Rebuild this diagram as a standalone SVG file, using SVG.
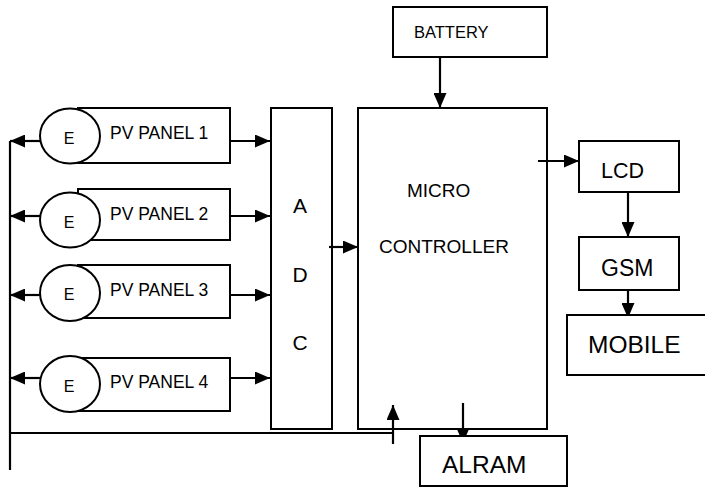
<svg xmlns="http://www.w3.org/2000/svg" width="705" height="487" viewBox="0 0 705 487">
<style>
  .box { fill: #fff; stroke: #000; stroke-width: 2; }
  .ell { fill: #fff; stroke: #000; stroke-width: 2; }
  .ln { fill: none; stroke: #000; stroke-width: 2.2; }
  .arr { fill: none; stroke: #000; stroke-width: 2.2; marker-end: url(#ah); }
  text { font-family: "Liberation Sans", Arial, sans-serif; fill: #000; }
  .pv { font-size: 17.5px; }
  .e { font-size: 16px; text-anchor: middle; }
</style>
<defs>
  <marker id="ah" markerUnits="userSpaceOnUse" markerWidth="16" markerHeight="13" refX="15" refY="6.5" orient="auto">
    <path d="M0,0 L15,6.5 L0,13 z" fill="#000"/>
  </marker>
</defs>
<rect width="705" height="487" fill="#fff"/>

<g id="connectors">
  <line class="arr" x1="40" y1="141" x2="10" y2="141"/>
  <line class="arr" x1="40" y1="216" x2="10" y2="216"/>
  <line class="arr" x1="40" y1="295" x2="10" y2="295"/>
  <line class="arr" x1="40" y1="378" x2="10" y2="378"/>
  <line class="arr" x1="230" y1="141" x2="270" y2="141"/>
  <line class="arr" x1="230" y1="216" x2="270" y2="216"/>
  <line class="arr" x1="230" y1="295" x2="270" y2="295"/>
  <line class="arr" x1="230" y1="378" x2="270" y2="378"/>
  <line class="ln" x1="10" y1="141" x2="10" y2="470"/>
  <line class="ln" x1="10" y1="433" x2="393" y2="433"/>
  <line class="arr" x1="393" y1="444" x2="393" y2="405"/>
  <line class="arr" x1="440" y1="53" x2="440" y2="108"/>
  <line class="arr" x1="329" y1="247" x2="358" y2="247"/>
  <line class="arr" x1="538" y1="161" x2="579" y2="161"/>
  <line class="arr" x1="628" y1="192" x2="628" y2="237"/>
  <line class="arr" x1="628" y1="281" x2="628" y2="318"/>
  <line class="arr" x1="463" y1="403" x2="463" y2="443"/>
</g>

<g id="pv1">
  <rect class="box" x="78" y="108" width="152" height="55"/>
  <ellipse class="ell" cx="70" cy="136" rx="30" ry="27.5"/>
  <text class="e" x="69" y="144">E</text>
  <text class="pv" x="110" y="139">PV PANEL 1</text>
</g>
<g id="pv2">
  <rect class="box" x="78" y="189" width="152" height="51"/>
  <ellipse class="ell" cx="70" cy="220" rx="30" ry="27.5"/>
  <text class="e" x="69" y="228">E</text>
  <text class="pv" x="110" y="220">PV PANEL 2</text>
</g>
<g id="pv3">
  <rect class="box" x="78" y="265" width="152" height="53"/>
  <ellipse class="ell" cx="70" cy="293" rx="30" ry="28"/>
  <text class="e" x="69" y="300">E</text>
  <text class="pv" x="110" y="296">PV PANEL 3</text>
</g>
<g id="pv4">
  <rect class="box" x="78" y="358" width="152" height="53"/>
  <ellipse class="ell" cx="70" cy="384" rx="30" ry="28"/>
  <text class="e" x="69" y="392">E</text>
  <text class="pv" x="110" y="388">PV PANEL 4</text>
</g>

<g id="adc">
  <rect x="271" y="108" width="61" height="321" fill="none" stroke="#000" stroke-width="2"/>
  <text x="300" y="213" font-size="21" text-anchor="middle">A</text>
  <text x="300" y="282" font-size="21" text-anchor="middle">D</text>
  <text x="300" y="350" font-size="21" text-anchor="middle">C</text>
</g>

<g id="microcontroller">
  <rect x="358" y="108" width="189" height="321" fill="none" stroke="#000" stroke-width="2"/>
  <text x="407" y="197" font-size="19">MICRO</text>
  <text x="379" y="253" font-size="19">CONTROLLER</text>
</g>

<g id="battery">
  <rect class="box" x="393" y="7" width="154" height="50"/>
  <text x="414" y="38" font-size="16.5">BATTERY</text>
</g>

<g id="lcd">
  <rect class="box" x="579" y="141" width="100" height="51"/>
  <text x="601" y="178" font-size="21.5">LCD</text>
</g>

<g id="gsm">
  <rect class="box" x="579" y="237" width="100" height="53"/>
  <text x="601" y="276" font-size="23">GSM</text>
</g>

<g id="mobile">
  <rect class="box" x="567" y="315" width="145" height="60"/>
  <text x="588" y="353" font-size="24.5">MOBILE</text>
</g>

<g id="alram">
  <rect class="box" x="420" y="436" width="147" height="50"/>
  <text x="442" y="473" font-size="24.5">ALRAM</text>
</g>
</svg>
